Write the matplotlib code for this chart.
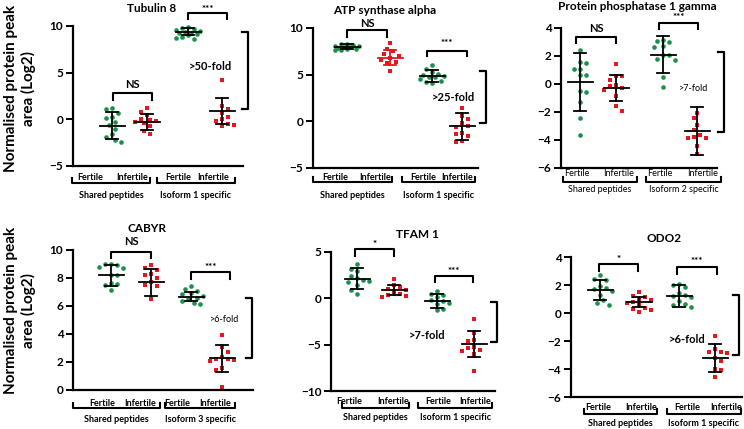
import matplotlib.pyplot as plt

plt.rcParams['font.family'] = ['Lato', 'DejaVu Sans']

GREEN = '#1d8f4c'
RED = '#e3171e'
W, H = 744, 429

# ---- values (log2 normalised peak area) ----
cats = ['Fertile', 'Infertile', 'Fertile', 'Infertile']

tub8_fert_shared = [1.2, 1.1, 0.7, 0.3, 0.1, -0.3, -0.6, -1.0, -1.6, -1.9, -2.2, -2.4]
tub8_inf_shared = [1.2, 0.8, 0.5, 0.0, -0.1, -0.2, -0.4, -0.7, -1.2, -1.6, -0.3]
tub8_fert_iso = [9.9, 9.8, 9.7, 9.6, 9.5, 9.4, 9.3, 9.2, 9.1, 9.0, 8.8, 8.7, 8.6]
tub8_inf_iso = [4.2, 1.4, 1.1, 0.7, 0.3, 0.0, -0.2, -0.5, -0.6, -0.7]
tub8_mean = [-0.7, -0.3, 9.4, 0.9]
tub8_sd = [1.45, 0.87, 0.35, 1.4]

atp_fert_shared = [8.3, 8.25, 8.2, 8.1, 8.1, 8.0, 8.0, 7.9, 7.8, 7.7, 7.65, 7.6]
atp_inf_shared = [8.4, 7.8, 7.5, 7.2, 7.0, 6.8, 6.6, 6.4, 6.2, 5.4]
atp_fert_iso = [6.0, 5.6, 5.3, 5.1, 5.0, 4.9, 4.8, 4.7, 4.5, 4.3, 4.2, 4.1]
atp_inf_iso = [1.4, 0.6, 0.3, -0.2, -0.5, -0.6, -1.3, -1.4, -1.6, -2.1, -2.2]
atp_mean = [8.0, 6.8, 4.9, -0.55]
atp_sd = [0.25, 0.8, 0.65, 1.4]

pp1g_fert_shared = [2.45, 1.55, 1.5, 1.1, 1.1, 0.65, 0.65, -0.5, -0.55, -1.3, -2.45, -3.65]
pp1g_inf_shared = [1.45, 0.6, 0.55, 0.3, -0.1, -0.15, -0.3, -0.45, -0.85, -1.55, -1.9]
pp1g_fert_iso = [3.15, 3.05, 3.0, 2.7, 2.65, 2.1, 2.05, 1.8, 1.7, 0.5, -0.2]
pp1g_inf_iso = [-2.05, -2.45, -2.9, -3.3, -3.65, -3.75, -3.85, -3.85, -4.45, -5.0]
pp1g_mean = [0.12, -0.29, 2.08, -3.35]
pp1g_sd = [2.07, 0.95, 1.32, 1.72]

cabyr_fert_shared = [9.0, 9.0, 8.95, 8.8, 8.7, 8.25, 8.2, 7.65, 7.5, 7.55, 7.15]
cabyr_inf_shared = [8.9, 8.7, 8.6, 8.3, 8.2, 8.0, 7.7, 7.5, 7.4, 6.5]
cabyr_fert_iso = [7.4, 7.25, 7.05, 6.9, 6.85, 6.75, 6.6, 6.5, 6.35, 6.2, 6.15]
cabyr_inf_iso = [3.95, 3.05, 2.7, 2.35, 2.25, 2.2, 2.15, 2.1, 1.55, 1.4, 0.25]
cabyr_mean = [8.2, 7.7, 6.67, 2.26]
cabyr_sd = [0.75, 0.95, 0.33, 0.97]

tfam_fert_shared = [3.7, 3.2, 2.9, 2.4, 2.2, 2.0, 1.9, 1.8, 1.4, 0.9, 0.5]
tfam_inf_shared = [2.05, 1.4, 1.25, 1.0, 0.9, 0.65, 0.45, 0.35, 0.2, 0.1]
tfam_fert_iso = [0.8, 0.45, 0.35, 0.1, -0.2, -0.3, -0.45, -0.6, -1.15, -1.25]
tfam_inf_iso = [-2.2, -3.75, -4.5, -4.65, -5.2, -5.35, -5.6, -5.7, -6.05, -7.85]
tfam_mean = [2.14, 0.89, -0.29, -4.93]
tfam_sd = [1.1, 0.57, 0.72, 1.45]

odo2_fert_shared = [2.7, 2.4, 2.35, 1.95, 1.8, 1.7, 1.55, 1.3, 0.9, 0.75, 0.55]
odo2_inf_shared = [1.5, 1.25, 1.15, 1.0, 0.9, 0.8, 0.75, 0.55, 0.35, 0.3, 0.25, 0.05]
odo2_fert_iso = [2.1, 2.0, 1.85, 1.4, 1.3, 1.25, 1.15, 0.85, 0.65, 0.6, 0.45]
odo2_inf_iso = [-1.65, -2.55, -2.75, -2.8, -2.85, -3.2, -3.45, -4.0, -4.05, -4.6]
odo2_mean = [1.62, 0.79, 1.21, -3.21]
odo2_sd = [0.72, 0.36, 0.78, 0.97]

# ---- layout, in pixels of the 744x429 canvas ----
# box = (left, right, top, bottom); xpos/brackets in px from the y spine
panels = [
    dict(title='Tubulin 8', tpos=(152, 8),
         groups=[tub8_fert_shared, tub8_inf_shared, tub8_fert_iso, tub8_inf_iso],
         mean=tub8_mean, sd=tub8_sd, barc=['k', 'k', 'k', 'k'],
         box=(73, 243, 26, 166), ylim=(-5, 10), yticks=[-5, 0, 5, 10],
         xpos=[39, 74, 115, 149],
         sig=[(40, 79, 2.86, 2.07, 'NS', 3.75), (115, 154, 11.36, 10.7, '***', 11.8)],
         fold=('>50-fold', 137, 5.64, 8, 'bold'), rb=(175, 9.4, 1.07),
         lab=[17, 59, 105, 140], brk=[(-1, 77), (84, 162)],
         grp=['Shared peptides', 'Isoform 1 specific'], offs=(12, 17, 29), w='bold'),
    dict(title='ATP synthase alpha', tpos=(385, 10),
         groups=[atp_fert_shared, atp_inf_shared, atp_fert_iso, atp_inf_iso],
         mean=atp_mean, sd=atp_sd, barc=['k', RED, 'k', 'k'],
         box=(313, 478, 28, 168), ylim=(-5, 10), yticks=[-5, 0, 5, 10],
         xpos=[34, 77, 119, 149],
         sig=[(34, 74, 9.75, 9.0, 'NS', 10.45), (114, 154, 7.5, 7.0, '***', 8.3)],
         fold=('>25-fold', 140, 2.57, 8, 'bold'), rb=(173, 5.36, -0.18),
         lab=[22, 62, 110, 144], brk=[(0, 79), (89, 162)],
         grp=['Shared peptides', 'Isoform 1 specific'], offs=(9, 14, 27), w='bold'),
    dict(title='Protein phosphatase 1 gamma', tpos=(637, 6),
         groups=[pp1g_fert_shared, pp1g_inf_shared, pp1g_fert_iso, pp1g_inf_iso],
         mean=pp1g_mean, sd=pp1g_sd, barc=['k', 'k', 'k', 'k'],
         box=(561, 717, 28, 168), ylim=(-6, 4), yticks=[-6, -4, -2, 0, 2, 4],
         xpos=[19, 55, 102, 136],
         sig=[(15, 55, 3.35, 2.92, 'NS', 4.0), (98, 137, 4.36, 3.93, '***', 4.75)],
         fold=('>7-fold', 133, -0.29, 6.5, 'normal'), rb=(163, 2.28, -3.4),
         lab=[16, 58, 99, 142], brk=[(2, 76), (85, 160)],
         grp=['Shared peptides', 'Isoform 2 specific'], offs=(6, 14, 21), w='normal'),
    dict(title='CABYR', tpos=(147, 229),
         groups=[cabyr_fert_shared, cabyr_inf_shared, cabyr_fert_iso, cabyr_inf_iso],
         mean=cabyr_mean, sd=cabyr_sd, barc=['k', 'k', 'k', 'k'],
         box=(73, 253, 250, 390), ylim=(0, 10), yticks=[0, 2, 4, 6, 8, 10],
         xpos=[38, 78, 118, 149],
         sig=[(38, 78, 9.88, 9.45, 'NS', 10.6), (118, 157, 8.4, 7.93, '***', 8.75)],
         fold=('>6-fold', 152, 5.07, 6.5, 'normal'), rb=(179, 6.6, 2.3),
         lab=[29, 67, 104, 142], brk=[(0, 87), (92, 162)],
         grp=['Shared peptides', 'Isoform 3 specific'], offs=(13, 18, 29), w='bold'),
    dict(title='TFAM 1', tpos=(417, 235),
         groups=[tfam_fert_shared, tfam_inf_shared, tfam_fert_iso, tfam_inf_iso],
         mean=tfam_mean, sd=tfam_sd, barc=['k', 'k', 'k', 'k'],
         box=(331, 495, 252, 391), ylim=(-10, 5), yticks=[-10, -5, 0, 5],
         xpos=[26, 63, 106, 143],
         sig=[(24, 63, 5.29, 4.57, '*', 5.85), (104, 142, 2.43, 1.79, '***', 2.9)],
         fold=('>7-fold', 96, -4.0, 8, 'bold'), rb=(166, -0.43, -4.75),
         lab=[18, 62, 107, 144], brk=[(11, 78), (87, 161)],
         grp=['Shared peptides', 'Isoform 1 specific'], offs=(11, 17, 27), w='bold'),
    dict(title='ODO2', tpos=(664, 239),
         groups=[odo2_fert_shared, odo2_inf_shared, odo2_fert_iso, odo2_inf_iso],
         mean=odo2_mean, sd=odo2_sd, barc=['k', 'k', 'k', 'k'],
         box=(571, 742, 257, 397), ylim=(-6, 4), yticks=[-6, -4, -2, 0, 2, 4],
         xpos=[29, 68, 108, 144],
         sig=[(28, 67, 3.48, 2.98, '*', 3.85), (106, 146, 3.29, 2.81, '***', 3.65)],
         fold=('>6-fold', 116, -1.9, 8, 'bold'), rb=(168, 1.31, -3.02),
         lab=[27, 70, 116, 155], brk=[(13, 86), (96, 170)],
         grp=['Shared peptides', 'Isoform 1 specific'], offs=(11, 17, 27), w='bold'),
]


def swarm(values, ppu, diam=6.0, maxoff=13.0):
    # simple beeswarm capped at +-maxoff px; falls back to least crowded spot
    placed = []
    res = [0.0] * len(values)
    order = sorted(range(len(values)), key=lambda k: -values[k])
    for n, k in enumerate(order):
        y = values[k] * ppu
        sign = 1 if n % 2 == 0 else -1
        cands = [0.0]
        step = diam / 2
        i = 1
        while i * step <= maxoff:
            cands += [sign * i * step, -sign * i * step]
            i += 1
        best, bestd = 0.0, -1
        for c in cands:
            d = min([((c - px) ** 2 + (y - py) ** 2) ** 0.5 for px, py in placed] or [99])
            if d >= diam:
                best = c
                break
            if d > bestd:
                best, bestd = c, d
        placed.append((best, y))
        res[k] = best
    return res


fig = plt.figure(figsize=(W / 100, H / 100), dpi=100)

for p in panels:
    l, r, t, b = p['box']
    ax = fig.add_axes([l / W, 1 - b / H, (r - l) / W, (b - t) / H])
    y0, y1 = p['ylim']
    ax.set_xlim(0, r - l)
    ax.set_ylim(y0, y1)
    ppu = (b - t) / (y1 - y0)
    for s in ['top', 'right']:
        ax.spines[s].set_visible(False)
    for s in ['left', 'bottom']:
        ax.spines[s].set_linewidth(1.6)
    ax.set_xticks([])
    ax.set_yticks(p['yticks'])
    ax.tick_params(axis='y', length=5, width=1.4, pad=2, labelsize=8.5)
    for lbl in ax.get_yticklabels():
        lbl.set_fontweight('bold')

    for g, vals in enumerate(p['groups']):
        x0 = p['xpos'][g]
        color = GREEN if g % 2 == 0 else RED
        marker = 'o' if g % 2 == 0 else 's'
        offs = swarm(vals, ppu)
        ax.scatter([x0 + o for o in offs], vals, s=11, marker=marker, color=color,
                   linewidths=0, clip_on=False, zorder=2)
        m, sd = p['mean'][g], p['sd'][g]
        bc = p['barc'][g]
        ax.plot([x0 - 12.5, x0 + 12.5], [m, m], color=bc, lw=1.3, clip_on=False, zorder=3)
        ax.plot([x0, x0], [m - sd, m + sd], color=bc, lw=1.3, clip_on=False, zorder=3)
        for e in (m - sd, m + sd):
            ax.plot([x0 - 6, x0 + 6], [e, e], color=bc, lw=1.3, clip_on=False, zorder=3)

    for xa, xb, top, leg, txt, ty in p['sig']:
        ax.plot([xa, xa, xb, xb], [leg, top, top, leg], color='k', lw=1.5, clip_on=False)
        ax.text((xa + xb) / 2, ty, txt, ha='center', va='center',
                fontsize=8 if txt == 'NS' else 7, fontweight='bold')

    ftxt, fx, fy, fs, fw = p['fold']
    ax.text(fx, fy, ftxt, ha='center', va='center', fontsize=fs, fontweight=fw)
    rx, ra, rbot = p['rb']
    ax.plot([rx - 6, rx, rx, rx - 6], [ra, ra, rbot, rbot], color='k', lw=1.6, clip_on=False)

    # category labels and brackets below the axis
    dl, db, dg = p['offs']
    ylab = y0 - dl / ppu
    ybr = y0 - db / ppu
    ytk = y0 - (db - 5) / ppu
    ygr = y0 - dg / ppu
    for x, c in zip(p['lab'], cats):
        ax.text(x, ylab, c, ha='center', va='center', fontsize=6.5, fontweight=p['w'],
                clip_on=False)
    for (xa, xb), gname in zip(p['brk'], p['grp']):
        ax.plot([xa, xa, xb, xb], [ytk, ybr, ybr, ytk], color='k', lw=1.5, clip_on=False)
        ax.text((xa + xb) / 2, ygr, gname, ha='center', va='center', fontsize=6.5,
                fontweight=p['w'], clip_on=False)

    tx, ty = p['tpos']
    fig.text(tx / W, 1 - ty / H, p['title'], ha='center', va='center',
             fontsize=8.5, fontweight='bold')

for yc in (88, 310):
    fig.text(20 / W, 1 - yc / H, 'Normalised protein peak\narea (Log2)', rotation=90,
             ha='center', va='center', multialignment='center', fontsize=11,
             fontweight='bold', linespacing=1.25)

fig.savefig('out.png', dpi=100)
